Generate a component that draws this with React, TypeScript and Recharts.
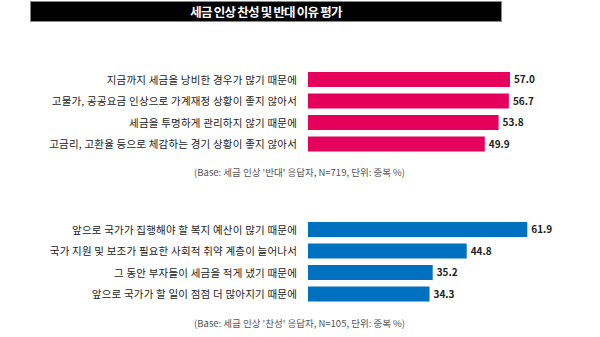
import { Bar, BarChart, LabelList, XAxis, YAxis } from 'recharts'

const FONT = "'Noto Sans CJK KR', 'Noto Sans', sans-serif"

const TITLE = '세금 인상 찬성 및 반대 이유 평가'

// 반대 이유
const opposeReasons = [
  '지금까지 세금을 낭비한 경우가 많기 때문에',
  '고물가, 공공요금 인상으로 가계재정 상황이 좋지 않아서',
  '세금을 투명하게 관리하지 않기 때문에',
  '고금리, 고환율 등으로 체감하는 경기 상황이 좋지 않아서',
]
const opposeValues = [57.0, 56.7, 53.8, 49.9]
const opposeNote = "(Base: 세금 인상 '반대' 응답자, N=719, 단위: 중복 %)"

// 찬성 이유
const supportReasons = [
  '앞으로 국가가 집행해야 할 복지 예산이 많기 때문에',
  '국가 지원 및 보조가 필요한 사회적 취약 계층이 늘어나서',
  '그 동안 부자들이 세금을 적게 냈기 때문에',
  '앞으로 국가가 할 일이 점점 더 많아지기 때문에',
]
const supportValues = [61.9, 44.8, 35.2, 34.3]
const supportNote = "(Base: 세금 인상 '찬성' 응답자, N=105, 단위: 중복 %)"

// single-line tick, no wrapping
const ReasonTick = ({ x, y, payload }: any) => (
  <text
    x={x}
    y={y}
    dy={4}
    textAnchor="end"
    fill="#222"
    fontSize={10.5}
    fontFamily={FONT}
    letterSpacing={0.2}
  >
    {payload.value}
  </text>
)

function ReasonChart({ reasons, values, color }: { reasons: string[]; values: number[]; color: string }) {
  const data = reasons.map((name, i) => ({ name, value: values[i] }))
  return (
    <BarChart
      width={600}
      height={86}
      data={data}
      layout="vertical"
      margin={{ top: 0, right: 44, bottom: 0, left: 0 }}
      barSize={15}
    >
      <XAxis type="number" domain={[0, 70]} hide />
      <YAxis
        type="category"
        dataKey="name"
        width={308}
        axisLine={false}
        tickLine={false}
        tickSize={0}
        tickMargin={11}
        interval={0}
        tick={<ReasonTick />}
      />
      <Bar dataKey="value" fill={color} isAnimationActive={false}>
        <LabelList
          dataKey="value"
          position="right"
          offset={4}
          formatter={(v: any) => Number(v).toFixed(1)}
          style={{ fill: '#222', fontSize: 10, fontWeight: 700, fontFamily: FONT }}
        />
      </Bar>
    </BarChart>
  )
}

export default function App() {
  const note = {
    position: 'absolute' as const,
    right: 195,
    fontSize: 9.5,
    color: '#555',
    fontFamily: FONT,
    whiteSpace: 'nowrap' as const,
    lineHeight: '12px',
  }
  return (
    <div style={{ position: 'absolute', left: 0, top: 0, width: 600, height: 337, background: '#fff', fontFamily: FONT }}>
      <div
        style={{
          position: 'absolute',
          left: 30,
          top: 1,
          width: 470,
          height: 19,
          background: '#000',
          border: '1px solid #888',
          color: '#fff',
          fontSize: 12.5,
          fontWeight: 700,
          letterSpacing: -0.8,
          textAlign: 'center',
          lineHeight: '19px',
        }}
      >
        {TITLE}
      </div>
      <div style={{ position: 'absolute', left: 0, top: 69 }}>
        <ReasonChart reasons={opposeReasons} values={opposeValues} color="#E4005B" />
      </div>
      <div style={{ ...note, top: 166 }}>{opposeNote}</div>
      <div style={{ position: 'absolute', left: 0, top: 219 }}>
        <ReasonChart reasons={supportReasons} values={supportValues} color="#0070C0" />
      </div>
      <div style={{ ...note, top: 317 }}>{supportNote}</div>
    </div>
  )
}
